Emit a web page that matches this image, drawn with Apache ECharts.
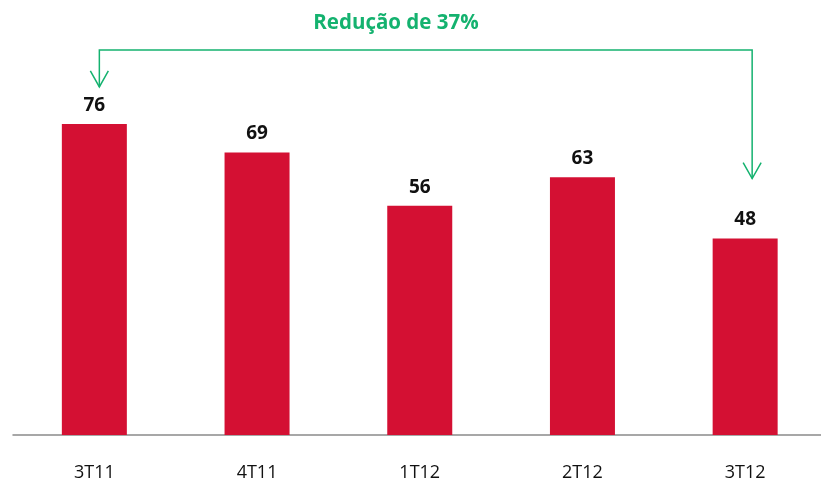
<!DOCTYPE html>
<html>
<head>
<meta charset="utf-8">
<script src="https://cdn.jsdelivr.net/npm/echarts@6/dist/echarts.min.js"></script>
<style>
html,body{margin:0;padding:0;background:#fff;overflow:hidden;}
#c{width:827px;height:482px;}
</style>
</head>
<body>
<div id="c"></div>
<script>
const categories = ['3T11', '4T11', '1T12', '2T12', '3T12'];
const values = [76, 69, 56, 63, 48];
const annotationText = 'Redução de 37%';

const GREEN = '#14b26f';
const chart = echarts.init(document.getElementById('c'));
chart.setOption({
  animation: false,
  grid: { left: 13, right: 0.5, top: 25.7, bottom: 44.5 },
  xAxis: {
    type: 'category',
    data: categories,
    axisLine: { lineStyle: { color: '#8a8a8a', width: 1.5 } },
    axisTick: { show: false },
    axisLabel: { color: '#111', fontFamily: 'Open Sans', fontSize: 18, margin: 29 }
  },
  yAxis: { type: 'value', min: 0, max: 100, show: false, splitLine: { show: false } },
  series: [{
    type: 'bar',
    data: values,
    barWidth: 65,
    itemStyle: { color: '#d41033' },
    label: {
      show: true, position: 'top', distance: 9,
      color: '#111', fontFamily: 'Open Sans', fontWeight: 'bold', fontSize: 19
    }
  }]
});

// annotation arrow tied to first and last bars
const pFirst = chart.convertToPixel({ xAxisIndex: 0, yAxisIndex: 0 }, [0, values[0]]);
const pLast = chart.convertToPixel({ xAxisIndex: 0, yAxisIndex: 0 }, [categories.length - 1, values[values.length - 1]]);
const lineY = 50;
const xl = pFirst[0] + 5, xr = pLast[0] + 7;
const tipL = pFirst[1] - 37, tipR = pLast[1] - 60;
chart.setOption({
  graphic: [
    { type: 'polyline', shape: { points: [[xl, tipL], [xl, lineY], [xr, lineY], [xr, tipR]] },
      style: { stroke: GREEN, lineWidth: 1.5, fill: null } },
    { type: 'polyline', shape: { points: [[xl - 9, tipL - 16], [xl, tipL], [xl + 9, tipL - 16]] },
      style: { stroke: GREEN, lineWidth: 1.5, fill: null } },
    { type: 'polyline', shape: { points: [[xr - 9, tipR - 16], [xr, tipR], [xr + 9, tipR - 16]] },
      style: { stroke: GREEN, lineWidth: 1.5, fill: null } },
    { type: 'text', x: 396, y: 34,
      style: { text: annotationText, fill: GREEN, font: 'bold 20.5px "Open Sans"', textAlign: 'center', textVerticalAlign: 'bottom' } }
  ]
});
</script>
</body>
</html>
